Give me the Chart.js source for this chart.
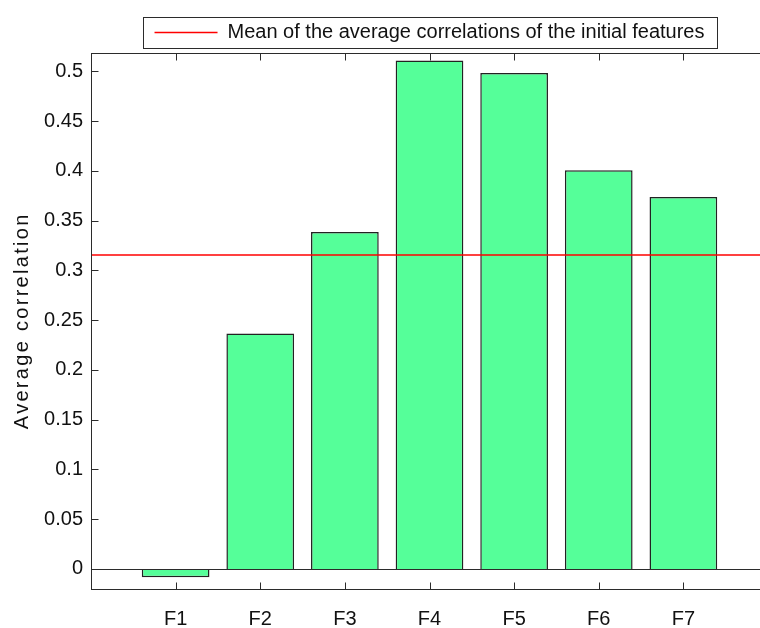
<!DOCTYPE html>
<html>
<head>
<meta charset="utf-8">
<script src="https://cdn.jsdelivr.net/npm/chart.js@4/dist/chart.umd.min.js"></script>
<style>
  html, body { margin: 0; padding: 0; background: #fff; overflow: hidden; }
  #wrap { width: 786px; height: 628px; }
</style>
</head>
<body>
<div id="wrap"><canvas id="bar-chart" width="786" height="628"></canvas></div>
<script>
// data (MATLAB style bar plot, xlim [0 8], right edge is cut off)
const categories = ['', 'F1', 'F2', 'F3', 'F4', 'F5', 'F6', 'F7', ''];
const avgCorrelation = [null, -0.0084, 0.2366, 0.3387, 0.5110, 0.4985, 0.4006, 0.3737, null];
const meanCorrelation = 0.3155;
const yTickValues = [0, 0.05, 0.1, 0.15, 0.2, 0.25, 0.3, 0.35, 0.4, 0.45, 0.5];
const yLimits = [-0.0202, 0.519];
const legendText = 'Mean of the average correlations of the initial features';

const FONT = '"Liberation Sans", Arial, sans-serif';
const AXIS = '#2b2b2b';

// axes box, inward ticks, zero baseline, legend border
const matlabAxes = {
  id: 'matlabAxes',
  afterLayout(chart) {
    // the rotated ylabel in the figure is spaced out a bit
    const s = chart.scales.y;
    if (s && !s._spaced) {
      const orig = s.drawTitle;
      s.drawTitle = function () {
        this.ctx.save();
        this.ctx.letterSpacing = '2.3px';
        orig.apply(this, arguments);
        this.ctx.restore();
      };
      s._spaced = true;
    }
  },
  afterDatasetsDraw(chart) {
    const ctx = chart.ctx, a = chart.chartArea;
    const x = chart.scales.x, y = chart.scales.y;
    const L = Math.round(a.left) + 0.5, R = Math.round(a.right) + 0.5;
    const T = Math.round(a.top) + 0.5, B = Math.round(a.bottom) + 0.5;
    ctx.save();
    ctx.strokeStyle = AXIS;
    ctx.lineWidth = 1;
    // zero baseline
    const y0 = Math.round(y.getPixelForValue(0)) + 0.5;
    ctx.beginPath();
    ctx.moveTo(L, y0); ctx.lineTo(R, y0);
    ctx.stroke();
    // box
    ctx.strokeRect(L, T, R - L, B - T);
    // ticks
    ctx.beginPath();
    yTickValues.forEach(v => {
      const p = Math.round(y.getPixelForValue(v)) + 0.5;
      ctx.moveTo(L, p); ctx.lineTo(L + 7, p);
      ctx.moveTo(R, p); ctx.lineTo(R - 7, p);
    });
    categories.forEach((c, i) => {
      if (!c) return;
      const p = Math.round(x.getPixelForValue(i)) + 0.5;
      ctx.moveTo(p, B); ctx.lineTo(p, B - 7);
      ctx.moveTo(p, T); ctx.lineTo(p, T + 7);
    });
    ctx.stroke();
    ctx.restore();
  },
  afterDraw(chart) {
    const lg = chart.legend;
    if (!lg || !lg.legendHitBoxes || !lg.legendHitBoxes.length) return;
    const hb = lg.legendHitBoxes[0];
    const ctx = chart.ctx;
    const cy = hb.top + hb.height / 2;
    ctx.save();
    ctx.strokeStyle = AXIS;
    ctx.lineWidth = 1;
    ctx.strokeRect(Math.round(hb.left - 12) + 0.5, Math.round(cy - 15.5) + 0.5,
                   Math.round(hb.width + 24), 31);
    ctx.restore();
  }
};

new Chart(document.getElementById('bar-chart'), {
  data: {
    labels: categories,
    datasets: [
      {
        type: 'line',
        label: legendText,
        data: categories.map(() => meanCorrelation),
        borderColor: '#ff0000',
        borderWidth: 1.5,
        pointRadius: 0,
        fill: false,
        order: 0
      },
      {
        type: 'bar',
        label: 'Average correlation',
        data: avgCorrelation,
        backgroundColor: '#55ff99',
        borderColor: '#222',
        borderWidth: 1.5,
        categoryPercentage: 1,
        barPercentage: 0.8,
        order: 1
      }
    ]
  },
  options: {
    responsive: false,
    animation: false,
    layout: { padding: { top: 9, right: 6, left: 0, bottom: 0 } },
    plugins: {
      tooltip: { enabled: false },
      legend: {
        position: 'top',
        fullSize: false,
        labels: {
          color: '#111',
          font: { family: FONT, size: 20 },
          usePointStyle: true,
          pointStyle: 'line',
          pointStyleWidth: 63,
          padding: 13.5,
          filter: item => item.datasetIndex === 0
        }
      }
    },
    scales: {
      x: {
        type: 'category',
        offset: false,
        grid: { display: false, drawTicks: false },
        border: { display: false },
        ticks: {
          color: '#111',
          font: { family: FONT, size: 20 },
          padding: 18,
          autoSkip: false,
          maxRotation: 0
        },
        afterFit(s) { s.height = 39; }
      },
      y: {
        min: yLimits[0],
        max: yLimits[1],
        grid: { display: false, drawTicks: false },
        border: { display: false },
        afterBuildTicks(s) { s.ticks = yTickValues.map(v => ({ value: v })); },
        ticks: {
          color: '#111',
          font: { family: FONT, size: 20 },
          padding: 8,
          callback: v => String(+v.toFixed(2))
        },
        title: {
          display: true,
          text: 'Average correlation',
          color: '#111',
          font: { family: FONT, size: 20 },
          padding: { top: 10, bottom: 0 }
        },
        afterFit(s) { s.width = 91; }
      }
    }
  },
  plugins: [matlabAxes]
});
</script>
</body>
</html>
